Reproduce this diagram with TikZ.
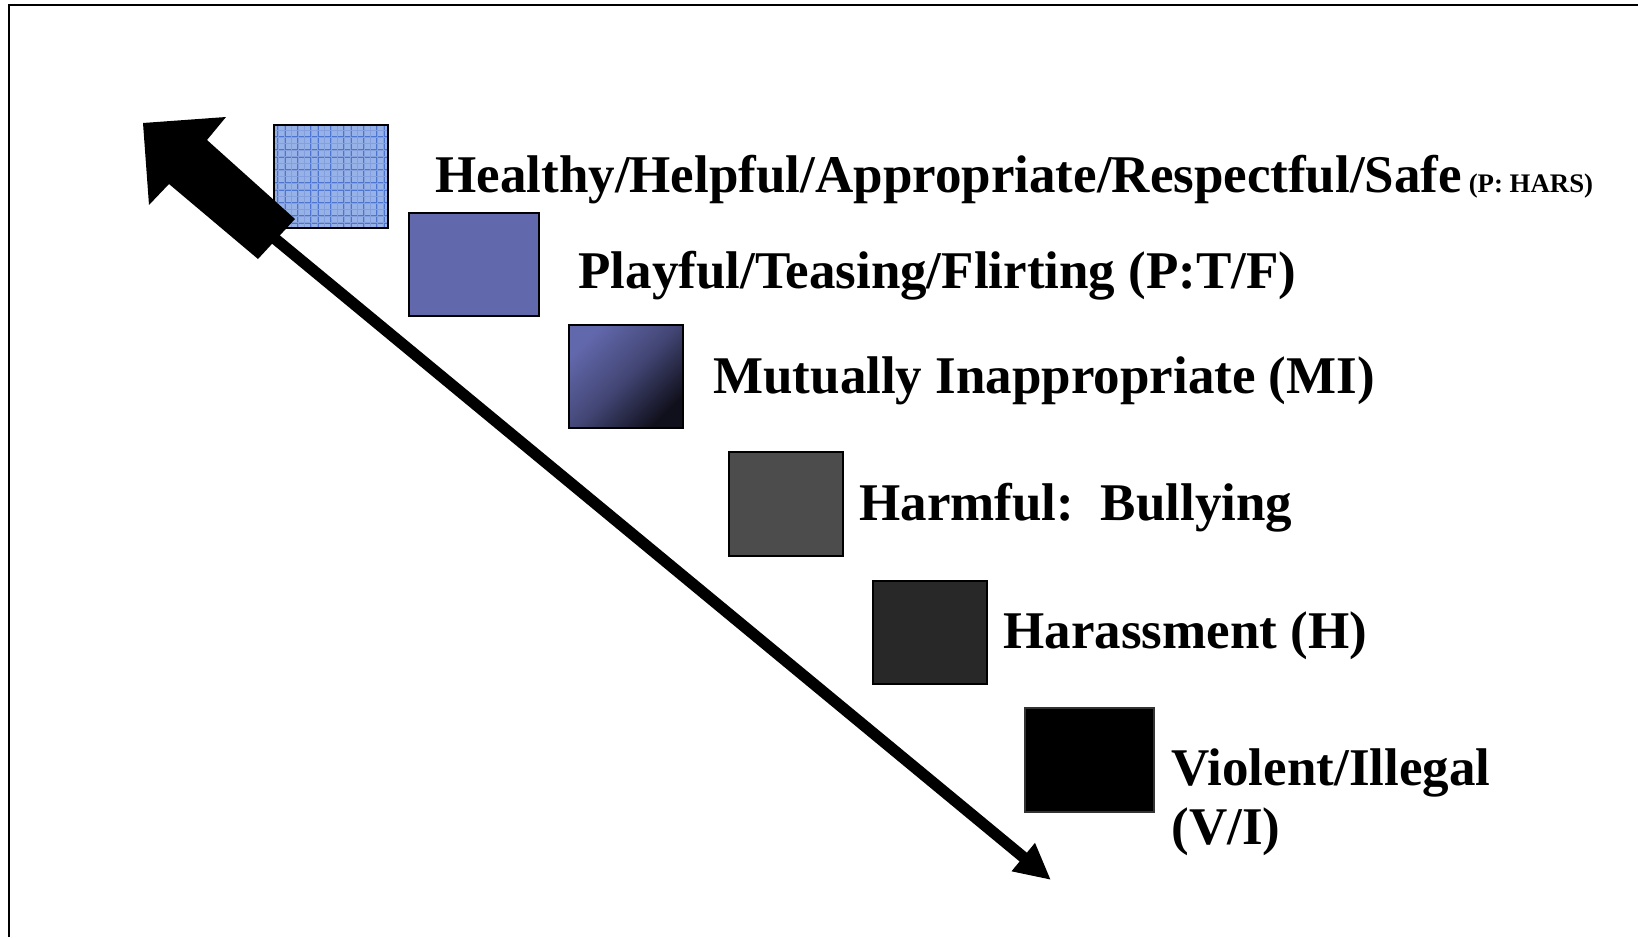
\documentclass[tikz,border=0pt]{standalone}
\usepackage{fontspec}
\setmainfont{Liberation Serif}
\usetikzlibrary{arrows.meta}

\definecolor{gridbase}{RGB}{150,178,230}
\definecolor{gridline}{RGB}{78,118,208}
\definecolor{ptfblue}{RGB}{98,104,172}
\definecolor{midark}{RGB}{16,16,28}
\definecolor{bullgray}{RGB}{76,76,76}
\definecolor{harsgray}{RGB}{40,40,40}

\tikzset{
	box/.style={draw=black, line width=1pt, inner sep=0pt, outer sep=0pt, minimum width=57pt, minimum height=51.5pt},
	lbl/.style={anchor=base west, inner sep=0pt, font=\bfseries\fontsize{26.5}{29.5}\selectfont},
}

\begin{document}
\begin{tikzpicture}[x=0.5pt,y=-0.5pt]
		\useasboundingbox (0,0) rectangle (1638,937);
		
		% frame
		\draw[line width=1.4pt] (9,937)--(9,5)--(1638,5);
		
		% boxes
		\node (b1) at (331,176.5) [box, fill=gridbase, path picture={
			\draw[gridline, line width=0.8pt] (path picture bounding box.south west) grid[step=3.3pt] (path picture bounding box.north east);
			\draw[gridline!70, line width=0.35pt, xshift=1.65pt, yshift=1.65pt] (path picture bounding box.south west) grid[step=3.3pt] (path picture bounding box.north east);}] {};
		\node (b2) at (474,264) [box, fill=ptfblue, minimum width=65pt] {};
		\node (b3) at (626,376) [box, top color=ptfblue, bottom color=midark, middle color=ptfblue!62!midark, shading angle=45] {};
		\node (b4) at (786,504) [box, fill=bullgray, minimum height=52pt] {};
		\node (b5) at (930,632.5) [box, fill=harsgray] {};
		\node (b6) at (1089.5,760) [box, fill=black, draw=black!80, minimum width=64.5pt, minimum height=52pt] {};
		
		% labels
		\node (t1) at (435,192) [lbl] {Healthy/Helpful/Appropriate/Respectful/Safe};
		\node (t1s) at (t1.base east) [anchor=base west, inner sep=0pt, xshift=3pt, font=\bfseries\fontsize{13.4}{15}\selectfont] {(P: HARS)};
		\node (t2) at (578,288) [lbl] {Playful/Teasing/Flirting (P:T/F)};
		\node (t3) at (713,393) [lbl] {Mutually Inappropriate (MI)};
		\node (t4) at (859,520) [lbl] {Harmful:\ \ Bullying};
		\node (t5) at (1003,648) [lbl] {Harassment (H)};
		\node (t6) at (1171,844) [lbl, align=left] {Violent/Illegal\\(V/I)};
		
		% scale arrow
		\coordinate (top) at (262,228);
		\coordinate (bottom) at (1051,880);
		\draw[line width=5.7pt, -{Triangle[length=18pt, width=17pt]}] (top)--(bottom);
		\fill (143,123)--(226,117)--(207,140)--(295,219)--(258,259)--(169,184)--(149,205)--cycle;
	\end{tikzpicture}
\end{document}
